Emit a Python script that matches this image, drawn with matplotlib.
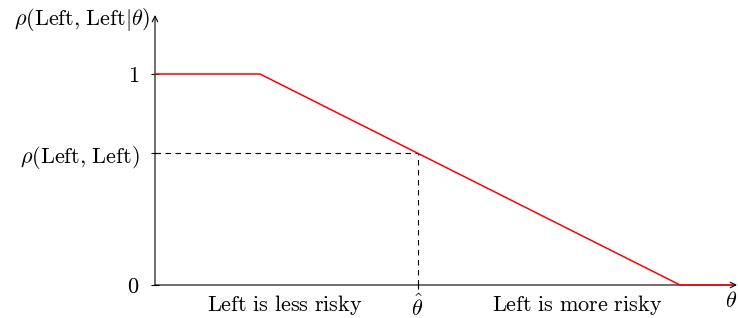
import matplotlib.pyplot as plt

plt.rcParams['mathtext.fontset'] = 'cm'

# piecewise red curve
theta = [0, 1, 5, 5.5]
rho = [1, 1, 0, 0]

theta_hat = 2.5
rho_ll = 0.625

fig = plt.figure(figsize=(7.38, 3.18), dpi=100)
ax = fig.add_axes([155 / 738, 33 / 318, 582 / 738, 270 / 318])
ax.set_xlim(0, 582 / 105)
ax.set_ylim(0, 270 / 211)
for s in ax.spines.values():
    s.set_visible(False)

# axes with arrows
ax.annotate('', xy=(582 / 105, 0), xytext=(0, 0),
            arrowprops=dict(arrowstyle='->', color='black', lw=0.8, shrinkA=0, shrinkB=0))
ax.annotate('', xy=(0, 270 / 211), xytext=(0, 0),
            arrowprops=dict(arrowstyle='->', color='black', lw=0.8, shrinkA=0, shrinkB=0))

ax.plot(theta, rho, color='red', lw=1.1, clip_on=False, zorder=3)

# dashed guides
ax.plot([0, theta_hat], [rho_ll, rho_ll], color='black', lw=0.8, ls=(0, (5, 4)))
ax.plot([theta_hat, theta_hat], [0, rho_ll], color='black', lw=0.8, ls=(0, (5, 4)))

fs = 16
ax.set_yticks([0, rho_ll, 1])
ax.set_yticklabels([r'$0$', r'$\rho(\mathrm{Left{,}\ Left})$', r'$1$'], fontsize=fs)
ax.set_xticks([theta_hat])
ax.set_xticklabels([r'$\hat{\theta}$'], fontsize=fs)
ax.tick_params(axis='y', direction='inout', length=6, width=0.8, pad=8)
ax.tick_params(axis='x', direction='inout', length=6, width=0.8, pad=3)

ax.text(-0.05, 270 / 211 - 0.02, r'$\rho(\mathrm{Left{,}\ Left}|\theta)$', fontsize=fs,
        ha='right', va='center')
ax.text(5.49, -0.075, r'$\theta$', fontsize=fs, ha='center', va='center')
ax.text(1.24, -0.095, r'$\mathrm{Left\ is\ less\ risky}$', fontsize=fs, ha='center', va='center')
ax.text(4.02, -0.095, r'$\mathrm{Left\ is\ more\ risky}$', fontsize=fs, ha='center', va='center')

fig.savefig('out.png', dpi=100)
